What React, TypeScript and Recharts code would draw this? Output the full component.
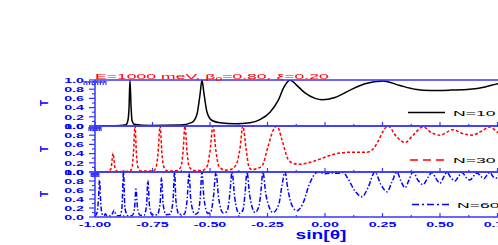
import React from 'react';
import { LineChart, Line, XAxis, YAxis } from 'recharts';

// [sin(theta), T]
const n10: [number, number][] = [
  [-1.0, 0.0], [-0.891, 0.01], [-0.865, 0.03], [-0.857, 0.12], [-0.852, 0.4], [-0.848, 1.0], [-0.843, 0.4],
  [-0.839, 0.12], [-0.83, 0.04], [-0.761, 0.01], [-0.63, 0.02], [-0.578, 0.08], [-0.557, 0.25], [-0.543, 0.7],
  [-0.535, 1.0], [-0.526, 0.7], [-0.513, 0.3], [-0.491, 0.12], [-0.457, 0.07], [-0.391, 0.05], [-0.326, 0.07],
  [-0.283, 0.14], [-0.239, 0.3], [-0.204, 0.55], [-0.178, 0.85], [-0.152, 1.0], [-0.126, 0.9], [-0.087, 0.72],
  [-0.043, 0.6], [-0.013, 0.57], [0.043, 0.62], [0.109, 0.78], [0.174, 0.92], [0.252, 0.98], [0.326, 0.88],
  [0.391, 0.8], [0.457, 0.77], [0.543, 0.78], [0.63, 0.8], [0.696, 0.85], [0.752, 0.92], [0.848, 0.97], [1.0, 1.0],
];

const n30: [number, number][] = [
  [-1.0, 0.0], [-0.943, 0.01], [-0.93, 0.08], [-0.926, 0.25], [-0.922, 0.41], [-0.917, 0.25], [-0.913, 0.08],
  [-0.9, 0.01], [-0.848, 0.02], [-0.839, 0.1], [-0.833, 0.4], [-0.826, 1.0], [-0.82, 0.4], [-0.813, 0.1],
  [-0.8, 0.02], [-0.748, 0.02], [-0.735, 0.1], [-0.726, 0.4], [-0.717, 1.0], [-0.709, 0.4], [-0.7, 0.1],
  [-0.683, 0.02], [-0.643, 0.03], [-0.626, 0.12], [-0.617, 0.45], [-0.609, 1.0], [-0.6, 0.45], [-0.591, 0.12],
  [-0.57, 0.03], [-0.535, 0.03], [-0.513, 0.12], [-0.5, 0.45], [-0.487, 1.0], [-0.474, 0.45], [-0.461, 0.12],
  [-0.435, 0.04], [-0.413, 0.05], [-0.387, 0.15], [-0.37, 0.5], [-0.357, 1.0], [-0.343, 0.5], [-0.33, 0.1],
  [-0.317, 0.05], [-0.3, 0.07], [-0.274, 0.13], [-0.248, 0.55], [-0.226, 0.9], [-0.209, 1.0], [-0.187, 0.7],
  [-0.161, 0.28], [-0.139, 0.19], [-0.117, 0.17], [-0.065, 0.21], [-0.022, 0.28], [0.035, 0.38], [0.109, 0.43],
  [0.183, 0.43], [0.209, 0.5], [0.23, 0.66], [0.252, 0.88], [0.274, 1.0], [0.309, 0.78], [0.348, 0.64],
  [0.383, 0.8], [0.426, 0.98], [0.465, 0.85], [0.5, 0.8], [0.557, 0.92], [0.596, 0.84], [0.639, 0.8],
  [0.678, 0.88], [0.717, 0.98], [0.752, 0.86], [0.791, 0.8], [0.848, 0.9], [0.935, 0.85], [1.0, 0.95],
];

const n60: [number, number][] = [
  [-1.0, 0.02], [-0.991, 0.1], [-0.985, 0.4], [-0.98, 0.82], [-0.976, 0.4], [-0.97, 0.08], [-0.961, 0.03],
  [-0.954, 0.07], [-0.948, 0.02], [-0.93, 0.03], [-0.922, 0.1], [-0.917, 0.15], [-0.913, 0.1], [-0.904, 0.03],
  [-0.891, 0.03], [-0.883, 0.2], [-0.876, 1.0], [-0.87, 0.2], [-0.857, 0.03], [-0.839, 0.03], [-0.828, 0.2],
  [-0.822, 0.62], [-0.815, 0.2], [-0.804, 0.04], [-0.787, 0.04], [-0.776, 0.25], [-0.77, 0.81], [-0.763, 0.25],
  [-0.752, 0.05], [-0.73, 0.05], [-0.717, 0.3], [-0.711, 0.88], [-0.704, 0.3], [-0.691, 0.05], [-0.674, 0.06],
  [-0.661, 0.35], [-0.654, 1.0], [-0.648, 0.35], [-0.635, 0.06], [-0.613, 0.06], [-0.6, 0.35], [-0.591, 0.97],
  [-0.583, 0.35], [-0.565, 0.06], [-0.552, 0.1], [-0.543, 0.4], [-0.535, 1.0], [-0.526, 0.4], [-0.509, 0.08],
  [-0.496, 0.12], [-0.485, 0.45], [-0.474, 1.0], [-0.463, 0.45], [-0.443, 0.09], [-0.426, 0.12], [-0.415, 0.45],
  [-0.404, 1.0], [-0.393, 0.45], [-0.374, 0.08], [-0.357, 0.15], [-0.348, 0.5], [-0.339, 1.0], [-0.328, 0.5],
  [-0.304, 0.1], [-0.287, 0.25], [-0.278, 0.6], [-0.27, 1.0], [-0.257, 0.5], [-0.226, 0.1], [-0.2, 0.3],
  [-0.187, 0.7], [-0.174, 1.0], [-0.161, 0.6], [-0.143, 0.25], [-0.122, 0.14], [-0.096, 0.3], [-0.07, 0.7],
  [-0.048, 0.93], [-0.03, 1.0], [0.0, 0.96], [0.03, 0.98], [0.052, 0.97], [0.078, 0.99], [0.1, 0.85],
  [0.13, 0.58], [0.161, 0.45], [0.187, 0.65], [0.217, 1.0], [0.243, 0.72], [0.27, 0.56], [0.291, 0.78],
  [0.313, 1.0], [0.33, 0.8], [0.348, 0.65], [0.365, 0.82], [0.383, 1.0], [0.404, 0.82], [0.426, 0.72],
  [0.448, 0.88], [0.465, 0.99], [0.483, 0.85], [0.5, 0.75], [0.517, 0.9], [0.53, 0.99], [0.548, 0.87],
  [0.565, 0.8], [0.583, 0.92], [0.596, 0.99], [0.613, 0.88], [0.63, 0.82], [0.648, 0.92], [0.661, 0.98],
  [0.678, 0.9], [0.691, 0.85], [0.704, 0.93], [0.717, 0.99], [0.73, 0.9], [0.743, 0.86], [0.761, 0.95],
  [0.848, 0.9], [1.0, 0.95],
];

const yTicks = [0, 0.1, 0.2, 0.3, 0.4, 0.5, 0.6, 0.7, 0.8, 0.9, 1.0];
const xTicks = [-1, -0.875, -0.75, -0.625, -0.5, -0.375, -0.25, -0.125, 0, 0.125, 0.25, 0.375, 0.5, 0.625, 0.75, 0.875, 1];
const seriesNames = ['N=10', 'N=30', 'N=60'];
const titleMain = 'E=1000 meV, β';
const titleSub = '0';
const titleRest = '=0.80, ξ=0.20';
const xTitle = 'sin[θ]';
const yTitle = 'T';

const AXIS = '#3636ff';
const LABEL = '#0000ff';
const FONT = '"Liberation Sans", Arial, sans-serif';
const W = 560;
const H = 245;

const toRows = (pts: [number, number][]) => pts.map(([x, t]) => ({ x, t }));

const YTick = (props: any) => {
  const { x, y, payload } = props;
  const v = payload.value as number;
  const major = Math.round(v * 10) % 2 === 0;
  return (
    <g>
      <line x1={x - (major ? 6 : 3)} x2={x} y1={y} y2={y} stroke={AXIS} strokeWidth={1.2} />
      {major && (
        <text
          transform={`translate(${x - 11} ${y + 2.7}) scale(1.9 1)`}
          textAnchor="end"
          fontSize={7.5}
          fontWeight="bold"
          fontFamily={FONT}
          fill={LABEL}
        >
          {v.toFixed(1)}
        </text>
      )}
    </g>
  );
};

const makeXTick = (showLabels: boolean, dir: number, offset: number) => (props: any) => {
  const { x, payload } = props;
  const y = props.y + offset;
  const v = payload.value as number;
  const major = Math.abs(Math.round(v * 4) - v * 4) < 1e-6;
  const len = major ? 4 : 2;
  return (
    <g>
      <line x1={x} x2={x} y1={y} y2={y + dir * len} stroke={AXIS} strokeWidth={1.2} />
      {showLabels && major && (
        <text
          transform={`translate(${x} ${y + 10}) scale(1.9 1)`}
          textAnchor="middle"
          fontSize={7.5}
          fontWeight="bold"
          fontFamily={FONT}
          fill={LABEL}
        >
          {v.toFixed(2)}
        </text>
      )}
    </g>
  );
};

type PanelProps = {
  rows: { x: number; t: number }[];
  top: number;
  bottom: number;
  color: string;
  dash?: string;
  showLabels: boolean;
};

const Panel = ({ rows, top, bottom, color, dash, showLabels }: PanelProps) => (
  <div style={{ position: 'absolute', left: 0, top: 0 }}>
    <LineChart width={W} height={H} data={rows} margin={{ top: top - 1, bottom: H - bottom - 1, left: 0, right: 5 }}>
      <XAxis
        xAxisId="b"
        dataKey="x"
        type="number"
        domain={[-1, 1]}
        ticks={xTicks}
        interval={0}
        height={1}
        tickSize={0}
        tickMargin={0}
        tickLine={false}
        axisLine={{ stroke: AXIS, strokeWidth: 1.5 }}
        tick={makeXTick(showLabels, -1, 0)}
        allowDataOverflow
      />
      <XAxis
        xAxisId="t"
        orientation="top"
        type="number"
        domain={[-1, 1]}
        ticks={xTicks}
        interval={0}
        height={1}
        tickSize={0}
        tickMargin={0}
        tickLine={false}
        axisLine={{ stroke: AXIS, strokeWidth: 1.5 }}
        tick={makeXTick(false, 1, 1)}
        allowDataOverflow
      />
      <YAxis
        type="number"
        domain={[0, 1]}
        ticks={yTicks}
        interval={0}
        width={95}
        tickSize={0}
        tickMargin={0}
        tickLine={false}
        axisLine={{ stroke: AXIS, strokeWidth: 1.5 }}
        tick={YTick}
        allowDataOverflow
      />
      <Line
        xAxisId="b"
        dataKey="t"
        type="monotone"
        stroke={color}
        strokeWidth={1.5}
        strokeDasharray={dash}
        dot={false}
        isAnimationActive={false}
      />
    </LineChart>
  </div>
);

const LegendItem = ({ y, x1, x2, tx, color, dash, name }: any) => (
  <g>
    <line x1={x1} x2={x2} y1={y} y2={y} stroke={color} strokeWidth={1.3} strokeDasharray={dash} />
    <text transform={`translate(${tx} ${y + 3}) scale(2.2 1)`} fontSize={8} fontFamily={FONT} fill="#000">
      {name}
    </text>
  </g>
);

export default function App() {
  return (
    <div style={{ position: 'relative', width: 498, height: 245, overflow: 'hidden', background: '#fff' }}>
      <style>{'body{margin:0;overflow:hidden}'}</style>
      <Panel rows={toRows(n10)} top={80} bottom={126} color="#000000" showLabels={false} />
      <Panel rows={toRows(n30)} top={126} bottom={172} color="#ff0000" dash="3 2" showLabels={false} />
      <Panel rows={toRows(n60)} top={172} bottom={217} color="#0000ff" dash="5 2 1.5 2" showLabels={true} />
      <svg width={498} height={245} style={{ position: 'absolute', left: 0, top: 0, pointerEvents: 'none' }}>
        <text transform="translate(95 78.5) scale(2.2 1)" fontSize={8} fontFamily={FONT} fill="#ff0000">
          {titleMain}
          <tspan fontSize={5.5} dy={2}>{titleSub}</tspan>
          <tspan dy={-2}>{titleRest}</tspan>
        </text>
        {[103, 149, 194].map((cy, i) => (
          <text
            key={i}
            transform={`translate(48 ${cy}) rotate(-90)`}
            textAnchor="middle"
            fontSize={10}
            fontWeight="bold"
            fontFamily={FONT}
            fill={LABEL}
          >
            {yTitle}
          </text>
        ))}
        <text
          transform="translate(321 239) scale(1.6 1)"
          textAnchor="middle"
          fontSize={12}
          fontWeight="bold"
          fontFamily={FONT}
          fill={LABEL}
        >
          {xTitle}
        </text>
        <LegendItem y={112.5} x1={408} x2={445} tx={453} color="#000" name={seriesNames[0]} />
        <LegendItem y={160} x1={410} x2={447} tx={453} color="#ff0000" dash="8 5" name={seriesNames[1]} />
        <LegendItem y={204.5} x1={412} x2={452} tx={457} color="#0000ff" dash="7 3 2 3" name={seriesNames[2]} />
      </svg>
    </div>
  );
}
